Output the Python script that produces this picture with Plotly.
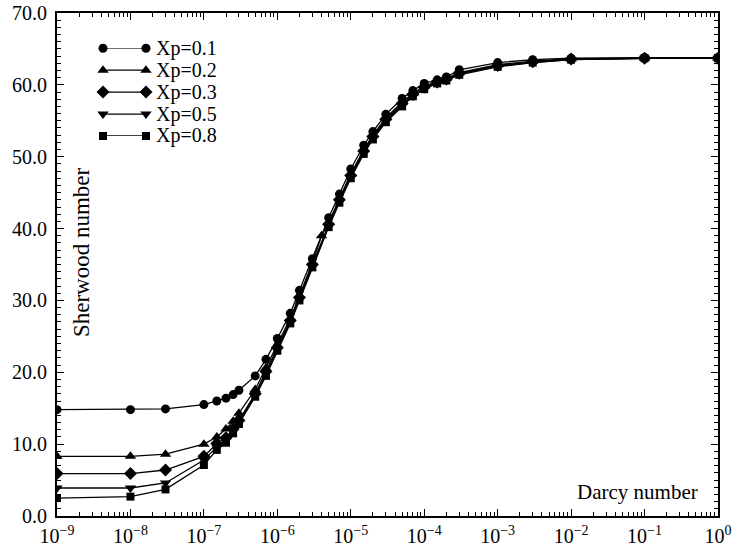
import plotly.graph_objects as go

# Darcy numbers (x) shared by all series
darcy = [1e-9, 1e-8, 3e-8, 1e-7, 1.5e-7, 2e-7, 2.5e-7, 3e-7, 5e-7, 7e-7,
         1e-6, 1.5e-6, 2e-6, 3e-6, 5e-6, 7e-6,
         1e-5, 1.5e-5, 2e-5, 3e-5, 5e-5, 7e-5,
         1e-4, 1.5e-4, 2e-4, 3e-4, 1e-3, 3e-3, 1e-2, 1e-1, 1.0]
# Xp=0.2 has one extra sample at 4e-6
darcy_02 = [1e-9, 1e-8, 3e-8, 1e-7, 1.5e-7, 2e-7, 2.5e-7, 3e-7, 5e-7, 7e-7,
            1e-6, 1.5e-6, 2e-6, 3e-6, 4e-6, 5e-6, 7e-6,
            1e-5, 1.5e-5, 2e-5, 3e-5, 5e-5, 7e-5,
            1e-4, 1.5e-4, 2e-4, 3e-4, 1e-3, 3e-3, 1e-2, 1e-1, 1.0]

sh_01 = [14.8, 14.8, 14.9, 15.5, 16.0, 16.4, 16.9, 17.5, 19.5, 21.8,
         24.7, 28.2, 31.4, 35.8, 41.5, 44.8,
         48.3, 51.6, 53.5, 55.9, 58.1, 59.2,
         60.2, 60.7, 61.1, 62.1, 63.1, 63.5, 63.7, 63.8, 63.8]
sh_02 = [8.3, 8.3, 8.6, 10.0, 11.0, 12.1, 13.2, 14.3, 17.6, 20.6,
         23.8, 27.5, 30.7, 35.2, 39.0, 40.8, 44.2,
         47.6, 51.0, 53.0, 55.4, 57.6, 58.8,
         59.8, 60.5, 60.9, 61.7, 62.8, 63.3, 63.6, 63.7, 63.7]
sh_03 = [5.9, 5.9, 6.4, 8.3, 10.1, 10.9, 12.1, 13.3, 17.0, 20.1,
         23.4, 27.2, 30.4, 35.0, 40.6, 44.0,
         47.4, 50.8, 52.8, 55.2, 57.4, 58.7,
         59.7, 60.4, 60.8, 61.6, 62.7, 63.2, 63.6, 63.7, 63.7]
sh_05 = [3.9, 3.9, 4.6, 7.8, 9.6, 10.5, 11.8, 13.1, 16.8, 19.8,
         23.2, 27.0, 30.2, 34.8, 40.4, 43.8,
         47.2, 50.6, 52.6, 55.0, 57.2, 58.5,
         59.5, 60.3, 60.7, 61.5, 62.6, 63.1, 63.5, 63.7, 63.7]
sh_08 = [2.5, 2.7, 3.7, 7.1, 9.2, 10.2, 11.5, 12.8, 16.6, 19.5,
         23.0, 26.8, 30.0, 34.6, 40.2, 43.6,
         47.0, 50.4, 52.4, 54.8, 57.0, 58.4,
         59.4, 60.2, 60.6, 61.4, 62.5, 63.1, 63.5, 63.7, 63.7]

# x tick positions and labels
x_tickvals = [1e-9, 1e-8, 1e-7, 1e-6, 1e-5, 1e-4, 1e-3, 1e-2, 1e-1, 1.0]
x_ticktext = ["10<sup>\u22129</sup>", "10<sup>\u22128</sup>", "10<sup>\u22127</sup>",
              "10<sup>\u22126</sup>", "10<sup>\u22125</sup>", "10<sup>\u22124</sup>",
              "10<sup>\u22123</sup>", "10<sup>\u22122</sup>", "10<sup>\u22121</sup>",
              "10<sup>0</sup>"]

series_names = ["Xp=0.1", "Xp=0.2", "Xp=0.3", "Xp=0.5", "Xp=0.8"]
series_x = [darcy, darcy_02, darcy, darcy, darcy]
series_y = [sh_01, sh_02, sh_03, sh_05, sh_08]
symbols = ["circle", "triangle-up", "diamond", "triangle-down", "square"]
sizes = [9, 10, 10, 10, 8]

FONT = "Liberation Serif, Times New Roman, DejaVu Serif, serif"

fig = go.Figure()
for name, xs, ys, sym, sz in zip(series_names, series_x, series_y, symbols, sizes):
    fig.add_trace(go.Scatter(
        x=xs, y=ys, name=name, mode="lines+markers", showlegend=False,
        line=dict(color="black", width=1.3),
        marker=dict(symbol=sym, size=sz, color="black"),
    ))

# custom legend keys: a line with a marker at each end, drawn on a helper axis pair
annotations = []
for i, (name, sym, sz) in enumerate(zip(series_names, symbols, sizes)):
    fig.add_trace(go.Scatter(
        x=[0, 1], y=[i, i], mode="lines+markers", showlegend=False,
        xaxis="x2", yaxis="y2", cliponaxis=False, hoverinfo="skip",
        line=dict(color="black", width=1.3),
        marker=dict(symbol=sym, size=sz, color="black"),
    ))
    annotations.append(dict(text=name, x=1, y=i, xref="x2", yref="y2",
                            xanchor="left", yanchor="middle", xshift=8,
                            showarrow=False, font=dict(size=20)))

annotations += [
    dict(text="Sherwood number", x=0.038, y=0.525, xref="paper", yref="paper",
         xanchor="center", yanchor="middle",
         textangle=-90, showarrow=False, font=dict(size=23)),
    dict(text="Darcy number", x=0.973, y=0.048, xref="paper", yref="paper",
         xanchor="right", yanchor="middle", showarrow=False, font=dict(size=21)),
]

# plot area at x 57..718, y 13..516 in the 738x547 window
fig.update_layout(
    width=738, height=547,
    margin=dict(l=57, r=20, t=13, b=31),
    paper_bgcolor="white", plot_bgcolor="white",
    font=dict(family=FONT, size=20, color="black"),
    showlegend=False,
    annotations=annotations,
    xaxis2=dict(domain=[0.0696, 0.1346], range=[0, 1], anchor="y2",
                visible=False, fixedrange=True),
    yaxis2=dict(domain=[0.7555, 0.930], range=[4, 0], anchor="x2",
                visible=False, fixedrange=True),
    xaxis=dict(
        type="log", range=[-9, 0], tickvals=x_tickvals, ticktext=x_ticktext,
        showgrid=False, zeroline=False, automargin=False,
        showline=True, linecolor="black", linewidth=2, mirror="ticks",
        ticks="inside", ticklen=7, tickwidth=1, tickcolor="black",
        minor=dict(ticks="inside", ticklen=4, dtick="D1", tickcolor="black", showgrid=False),
        tickfont=dict(family=FONT, size=20), ticklabeloverflow="allow",
        ticklabelstandoff=1,
    ),
    yaxis=dict(
        range=[0, 70], dtick=10, tickformat=".1f",
        showgrid=False, zeroline=False, automargin=False,
        showline=True, linecolor="black", linewidth=2, mirror="ticks",
        ticks="inside", ticklen=7, tickwidth=1, tickcolor="black",
        minor=dict(ticks="inside", ticklen=4, dtick=1, tickcolor="black", showgrid=False),
        tickfont=dict(family=FONT, size=20), ticklabelstandoff=4,
        ticklabeloverflow="allow",
    ),
)

# remove the default 8px page margin so the figure fills the window exactly
fig.write_html("out.html", config={"displayModeBar": False},
               post_script="document.body.style.margin='0';")
